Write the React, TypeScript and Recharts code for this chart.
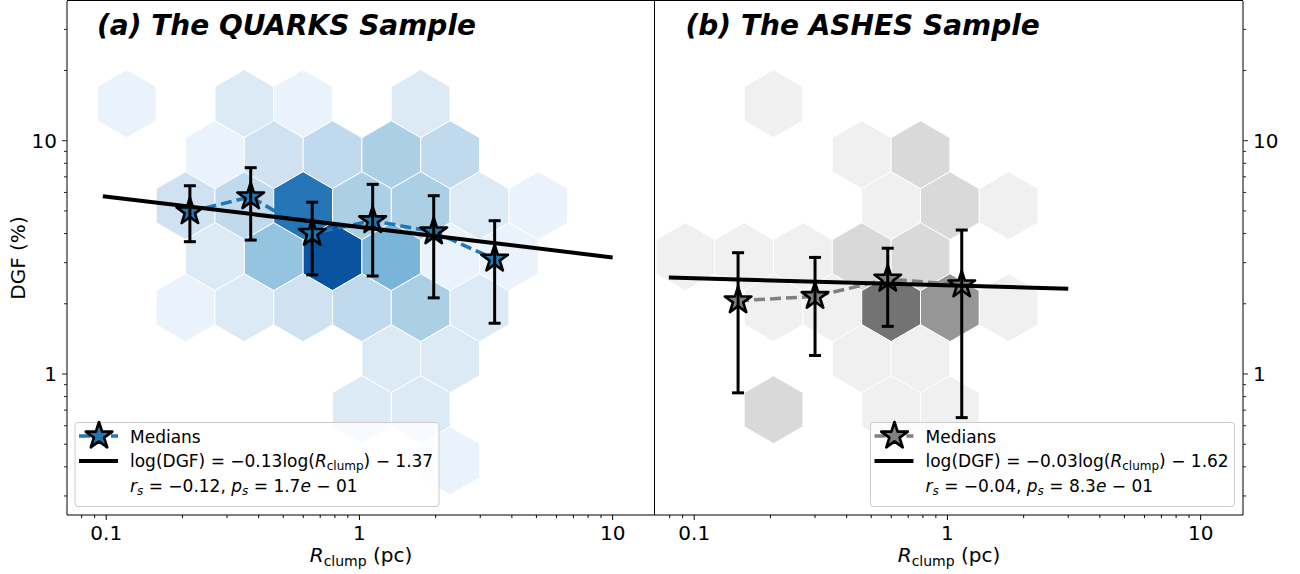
import React from 'react';
import { ScatterChart, Scatter, XAxis, YAxis, ErrorBar } from 'recharts';

const FONT = '"DejaVu Sans", sans-serif';

// hexbin cells: [column, row, count]
const quarksCells = [
    [0, 0, 1], [2, 0, 2], [3, 0, 1], [5, 0, 2],
    [1, 1, 1], [2, 1, 3], [3, 1, 4], [4, 1, 5], [5, 1, 4],
    [1, 2, 3], [2, 2, 4], [3, 2, 11], [4, 2, 5], [5, 2, 5], [6, 2, 2], [7, 2, 1],
    [1, 3, 2], [2, 3, 6], [3, 3, 13], [4, 3, 7], [5, 3, 1], [6, 3, 1],
    [1, 4, 1], [2, 4, 2], [3, 4, 3], [4, 4, 4], [5, 4, 5], [6, 4, 2],
    [4, 5, 2], [5, 5, 2],
    [4, 6, 2], [5, 6, 2],
    [5, 7, 1],
];
const ashesCells = [
    [1, 0, 1],
    [2, 1, 1], [3, 1, 2],
    [3, 2, 1], [4, 2, 2], [5, 2, 1],
    [-1, 3, 1], [0, 3, 1], [1, 3, 1], [2, 3, 2], [3, 3, 2],
    [1, 4, 1], [2, 4, 1], [3, 4, 5], [4, 4, 4], [5, 4, 1],
    [2, 5, 1], [3, 5, 1],
    [1, 6, 2], [3, 6, 1], [4, 6, 1],
    [4, 7, 1],
];

// binned medians (R_clump in pc, DGF in %) and error bar ends
const quarksMedR = [0.214, 0.372, 0.651, 1.128, 1.965, 3.42];
const quarksMedDGF = [4.96, 5.75, 4.01, 4.54, 4.07, 3.11];
const quarksLowDGF = [3.69, 3.75, 2.66, 2.63, 2.12, 1.65];
const quarksHighDGF = [6.41, 7.66, 5.45, 6.5, 5.81, 4.54];

const ashesMedR = [0.149, 0.3, 0.581, 1.139];
const ashesMedDGF = [2.06, 2.15, 2.55, 2.41];
const ashesLowDGF = [0.83, 1.2, 1.6, 0.65];
const ashesHighDGF = [3.31, 3.16, 3.46, 4.14];

// end points of the fitted relations
const quarksFitR = [0.097, 10];
const quarksFitDGF = [5.78, 3.16];
const ashesFitR = [0.0794, 3.0];
const ashesFitDGF = [2.59, 2.32];

const xTicks = [0.08, 0.09, 0.1, 0.2, 0.3, 0.4, 0.5, 0.6, 0.7, 0.8, 0.9, 1, 2, 3, 4, 5, 6, 7, 8, 9, 10];
const yTicks = [0.3, 0.4, 0.5, 0.6, 0.7, 0.8, 0.9, 1, 2, 3, 4, 5, 6, 7, 8, 9, 10, 20, 30];

const X_DOMAIN = [0.07, 14.7];
const Y_DOMAIN = [0.2486, 39.7];
const PLOT_W = 588;
const PLOT_H = 514;

// hex lattice in log10 space (matplotlib hexbin style, pointy top)
const GRID_X0 = -0.919;
const GRID_DX = 0.2322;
const GRID_Y0 = 1.1586;
const GRID_DY = 0.2186;

const PX_DEC_X = PLOT_W / Math.log10(X_DOMAIN[1] / X_DOMAIN[0]);
const PX_DEC_Y = PLOT_H / Math.log10(Y_DOMAIN[1] / Y_DOMAIN[0]);
const HEX_HW = (GRID_DX / 2) * PX_DEC_X;
const HEX_R = ((GRID_DY * 2) / 3) * PX_DEC_Y;

const BLUES = ['#f7fbff', '#deebf7', '#c6dbef', '#9ecae1', '#6baed6', '#4292c6', '#2171b5', '#08519c', '#08306b'];
const GREYS = ['#ffffff', '#f0f0f0', '#d9d9d9', '#bdbdbd', '#969696', '#737373', '#525252', '#252525', '#000000'];

const cmap = (stops: string[], t: number) => {
    const u = Math.max(0, Math.min(1, t)) * (stops.length - 1);
    const i = Math.min(Math.floor(u), stops.length - 2);
    const f = u - i;
    const a = parseInt(stops[i].slice(1), 16);
    const b = parseInt(stops[i + 1].slice(1), 16);
    const ch = (s: number) => Math.round(((a >> s) & 255) * (1 - f) + ((b >> s) & 255) * f);
    return `rgb(${ch(16)},${ch(8)},${ch(0)})`;
};

const toHexData = (cells: number[][]) =>
    cells.map(([c, r, n]) => ({
        x: 10 ** (GRID_X0 + GRID_DX * (c + (r % 2) * 0.5)),
        y: 10 ** (GRID_Y0 - GRID_DY * r),
        n,
    }));

const toMedData = (r: number[], med: number[], lo: number[], hi: number[]) =>
    r.map((x, i) => ({ x, y: med[i], err: [med[i] - lo[i], hi[i] - med[i]] }));

const toLine = (r: number[], v: number[]) => r.map((x, i) => ({ x, y: v[i] }));

const starPoints = (cx: number, cy: number, R: number) => {
    const pts: string[] = [];
    for (let i = 0; i < 10; i++) {
        const rr = i % 2 === 0 ? R : R * 0.381966;
        const a = -Math.PI / 2 + (i * Math.PI) / 5;
        pts.push(`${cx + rr * Math.cos(a)},${cy + rr * Math.sin(a)}`);
    }
    return pts.join(' ');
};

const makeHex = (stops: string[], vmax: number) => (p: any) => {
    const { cx, cy, payload } = p;
    const pts = [
        [0, -HEX_R], [HEX_HW, -HEX_R / 2], [HEX_HW, HEX_R / 2],
        [0, HEX_R], [-HEX_HW, HEX_R / 2], [-HEX_HW, -HEX_R / 2],
    ].map(([dx, dy]) => `${cx + dx},${cy + dy}`).join(' ');
    return <polygon points={pts} fill={cmap(stops, payload.n / vmax)} stroke="#fff" strokeWidth={1} />;
};

const makeStar = (fill: string) => (p: any) => (
    <polygon points={starPoints(p.cx, p.cy, 14)} fill={fill} stroke="#000" strokeWidth={2.6} strokeLinejoin="round" />
);

const noShape = () => <g />;

const isMajor = (v: number) => Math.abs(Math.log10(v) - Math.round(Math.log10(v))) < 1e-6;

const XTick = (props: any) => {
    const { x, y, payload } = props;
    const major = isMajor(payload.value);
    return (
        <g>
            <line x1={x} x2={x} y1={y} y2={y + (major ? 5 : 3)} stroke="#000" strokeWidth={1} />
            {major && (
                <text x={x} y={y + 25} textAnchor="middle" fontSize={20} fontFamily={FONT} fill="#000">
                    {String(payload.value)}
                </text>
            )}
        </g>
    );
};

const YTick = (props: any) => {
    const { x, y, payload, side } = props;
    const major = isMajor(payload.value);
    const dir = side === 'left' ? -1 : 1;
    const len = major ? 5 : 3;
    return (
        <g>
            <line x1={x} x2={x + dir * len} y1={y} y2={y} stroke="#222" strokeWidth={1} />
            {major && (
                <text x={x + dir * 10} y={y} dy="0.36em" textAnchor={side === 'left' ? 'end' : 'start'}
                    fontSize={20} fontFamily={FONT} fill="#000">
                    {String(payload.value)}
                </text>
            )}
        </g>
    );
};

type PanelProps = {
    left: number;
    side: 'left' | 'right';
    cells: number[][];
    stops: string[];
    vmax: number;
    med: any[];
    fit: any[];
    color: string;
};

const layer: React.CSSProperties = { position: 'absolute', left: 0, top: 0 };

const Panel = ({ left, side, cells, stops, vmax, med, fit, color }: PanelProps) => {
    const isLeft = side === 'left';
    const width = isLeft ? 660 : 700;
    // plot area: 588 x 514, top at 1
    const plotMargin = isLeft ? { top: 1, right: 5, bottom: 59, left: 67 } : { top: 1, right: 57, bottom: 59, left: 55 };
    const hiddenAxes = [
        <XAxis key="x" hide type="number" dataKey="x" scale="log" domain={X_DOMAIN} allowDataOverflow />,
        <YAxis key="y" hide type="number" dataKey="y" scale="log" domain={Y_DOMAIN} allowDataOverflow />,
    ];
    return (
        <div style={{ position: 'absolute', left, top: 0, width, height: 574 }}>
            {/* axes and hexbin density */}
            <div style={layer}>
                <ScatterChart
                    width={width}
                    height={574}
                    margin={isLeft ? { top: 1, right: 5, bottom: 19, left: 7 } : { top: 1, right: 7, bottom: 19, left: 55 }}
                >
                    <XAxis
                        type="number" dataKey="x" scale="log" domain={X_DOMAIN} allowDataOverflow
                        ticks={xTicks} interval={0} tick={<XTick />} tickLine={false} tickSize={0} tickMargin={0}
                        axisLine={{ stroke: '#000' }} height={40}
                    />
                    <YAxis
                        type="number" dataKey="y" scale="log" domain={Y_DOMAIN} allowDataOverflow
                        orientation={side} width={isLeft ? 60 : 50}
                        ticks={yTicks} interval={0} tick={<YTick side={side} />} tickLine={false} tickSize={0} tickMargin={0}
                        axisLine={{ stroke: '#000' }}
                    />
                    <Scatter data={toHexData(cells)} shape={makeHex(stops, vmax)} isAnimationActive={false} />
                </ScatterChart>
            </div>
            {/* medians joined by a dashed line */}
            <div style={layer}>
                <ScatterChart width={width} height={574} margin={plotMargin}>
                    {hiddenAxes}
                    <Scatter
                        data={med} fill={color} shape={makeStar(color)} isAnimationActive={false}
                        line={{ stroke: color, strokeWidth: 3.5, strokeDasharray: '11 5' }}
                    />
                </ScatterChart>
            </div>
            {/* error bars on top of the markers, then the fit */}
            <div style={layer}>
                <ScatterChart width={width} height={574} margin={plotMargin}>
                    {hiddenAxes}
                    <Scatter data={med} fill="#000" shape={noShape} isAnimationActive={false}>
                        <ErrorBar dataKey="err" direction="y" width={6} strokeWidth={3} stroke="#000" />
                    </Scatter>
                    <Scatter
                        data={fit} fill="#000" shape={noShape} isAnimationActive={false}
                        line={{ stroke: '#000', strokeWidth: 4 }}
                    />
                </ScatterChart>
            </div>
        </div>
    );
};

type LegendProps = { x: number; color: string; slope: string; icpt: string; rs: string; ps: string; pe: string };

const LegendBox = ({ x, color, slope, icpt, rs, ps, pe }: LegendProps) => (
    <g fontFamily={FONT} fontSize={17} fill="#000">
        <rect x={x} y={422.5} width={364} height={84} rx={3} fill="#fff" fillOpacity={0.8} stroke="#ccc" strokeWidth={1} />
        <line x1={x + 4} x2={x + 43} y1={436} y2={436} stroke={color} strokeWidth={3.5} strokeDasharray="11 5" />
        <polygon points={starPoints(x + 24, 436, 14)} fill={color} stroke="#000" strokeWidth={2.6} strokeLinejoin="round" />
        <text x={x + 55} y={443}>Medians</text>
        <line x1={x + 4} x2={x + 43} y1={461} y2={461} stroke="#000" strokeWidth={4} />
        <text x={x + 55} y={467}>
            log(DGF) = {slope}log(<tspan fontStyle="italic">R</tspan>
            <tspan fontSize={12} dy={3}>clump</tspan>
            <tspan dy={-3}>) {'\u2212'} {icpt}</tspan>
        </text>
        <text x={x + 55} y={492}>
            <tspan fontStyle="italic">r</tspan>
            <tspan fontSize={12} fontStyle="italic" dy={3}>s</tspan>
            <tspan dy={-3}> = {rs}, </tspan>
            <tspan fontStyle="italic">p</tspan>
            <tspan fontSize={12} fontStyle="italic" dy={3}>s</tspan>
            <tspan dy={-3}> = {ps}</tspan>
            <tspan fontStyle="italic">e</tspan>
            <tspan> {'\u2212'} {pe}</tspan>
        </text>
    </g>
);

const XLabel = ({ x }: { x: number }) => (
    <text x={x} y={562} textAnchor="middle" fontFamily={FONT} fontSize={20} fill="#000">
        <tspan fontStyle="italic">R</tspan>
        <tspan fontSize={14} dy={4}>clump</tspan>
        <tspan dy={-4}> (pc)</tspan>
    </text>
);

export default function App() {
    return (
        <div style={{ position: 'relative', width: 1300, height: 574, background: '#fff', overflow: 'hidden' }}>
            <style>{'body{margin:0}'}</style>
            <Panel
                left={0} side="left" cells={quarksCells} stops={BLUES} vmax={15} color="#1f77b4"
                med={toMedData(quarksMedR, quarksMedDGF, quarksLowDGF, quarksHighDGF)}
                fit={toLine(quarksFitR, quarksFitDGF)}
            />
            <Panel
                left={600} side="right" cells={ashesCells} stops={GREYS} vmax={8} color="#808080"
                med={toMedData(ashesMedR, ashesMedDGF, ashesLowDGF, ashesHighDGF)}
                fit={toLine(ashesFitR, ashesFitDGF)}
            />
            <svg width={1300} height={574} style={{ position: 'absolute', left: 0, top: 0, pointerEvents: 'none' }}>
                <line x1={67} x2={1243} y1={0.5} y2={0.5} stroke="#000" strokeWidth={1} />
                <line x1={654.5} x2={654.5} y1={0} y2={515} stroke="#000" strokeWidth={1} />
                <text x={97} y={34.5} fontFamily={FONT} fontSize={28} fontWeight="bold" fontStyle="italic">
                    (a) The QUARKS Sample
                </text>
                <text x={685.5} y={34.5} fontFamily={FONT} fontSize={28} fontWeight="bold" fontStyle="italic">
                    (b) The ASHES Sample
                </text>
                <text x={-258} y={25} transform="rotate(-90)" textAnchor="middle" fontFamily={FONT} fontSize={20}>
                    DGF (%)
                </text>
                <XLabel x={361} />
                <XLabel x={949} />
                <LegendBox x={75} color="#1f77b4" slope={'\u22120.13'} icpt="1.37" rs={'\u22120.12'} ps="1.7" pe="01" />
                <LegendBox x={870.5} color="#808080" slope={'\u22120.03'} icpt="1.62" rs={'\u22120.04'} ps="8.3" pe="01" />
            </svg>
        </div>
    );
}
